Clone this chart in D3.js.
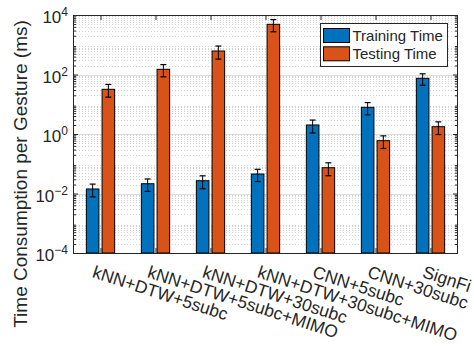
<!DOCTYPE html>
<html>
<head>
<meta charset="utf-8">
<script src="https://cdn.jsdelivr.net/npm/d3@7"></script>
<style>
  html, body { margin: 0; padding: 0; background: #fff; }
  svg { display: block; }
  text { font-family: "Liberation Sans", Arial, Helvetica, sans-serif; fill: #262626; }
</style>
</head>
<body>
<svg id="chart" width="474" height="348"></svg>
<script>
// Methods compared
const categories = [
  "kNN+DTW+5subc",
  "kNN+DTW+5subc+MIMO",
  "kNN+DTW+30subc",
  "kNN+DTW+30subc+MIMO",
  "CNN+5subc",
  "CNN+30subc",
  "SignFi"
];
const seriesNames = ["Training Time", "Testing Time"];
const seriesColors = ["#0072BD", "#D95319"];

// Mean time per gesture (ms) and standard deviation
const trainingTime = [0.0142, 0.0213, 0.0269, 0.0452, 2.01, 7.89, 74.5];
const trainingErr  = [0.0065, 0.0095, 0.0124, 0.020, 0.93, 3.5, 31];
const testingTime  = [31.8, 149.6, 617, 4863, 0.0736, 0.596, 1.76];
const testingErr   = [14.5, 66, 288, 2130, 0.034, 0.27, 0.8];

const yTicks = [1e-4, 1e-2, 1, 1e2, 1e4];
const yTickLabels = ["-4", "-2", "0", "2", "4"];

const W = 474, H = 348;
const plot = { left: 73, top: 15, right: 458, bottom: 253 };
const ink = "#262626";

const svg = d3.select("#chart");

const x = d3.scaleBand().domain(categories).range([plot.left, plot.right]).padding(0);
const bw = x.bandwidth();
const groupW = bw * 2 / 3.5;
const xSub = d3.scaleBand().domain(seriesNames)
  .range([-groupW / 2, groupW / 2]).paddingInner(0.2).paddingOuter(0.1);
const y = d3.scaleLog().domain([1e-4, 1e4]).range([plot.bottom, plot.top]);

// Grid: minor (dotted) then major (solid)
const minorVals = [];
for (let e = -4; e < 4; e++) for (let m = 2; m <= 9; m++) minorVals.push(m * Math.pow(10, e));
const grid = svg.append("g");
grid.selectAll("line.minor").data(minorVals).join("line")
  .attr("x1", plot.left).attr("x2", plot.right)
  .attr("y1", d => Math.round(y(d)) + 0.5).attr("y2", d => Math.round(y(d)) + 0.5)
  .attr("stroke", "#d2d2d2").attr("stroke-width", 1).attr("stroke-dasharray", "1,2");
grid.selectAll("line.major").data(yTicks).join("line")
  .attr("x1", plot.left).attr("x2", plot.right)
  .attr("y1", d => Math.round(y(d)) + 0.5).attr("y2", d => Math.round(y(d)) + 0.5)
  .attr("stroke", "#dedede").attr("stroke-width", 1);

// Bars
const rows = categories.map((c, i) => ({
  cat: c,
  vals: [
    { s: seriesNames[0], v: trainingTime[i], e: trainingErr[i], k: 0 },
    { s: seriesNames[1], v: testingTime[i], e: testingErr[i], k: 1 }
  ]
}));
const groups = svg.append("g").selectAll("g").data(rows).join("g")
  .attr("transform", d => `translate(${x(d.cat) + bw / 2},0)`);
groups.selectAll("rect").data(d => d.vals).join("rect")
  .attr("x", d => xSub(d.s))
  .attr("width", xSub.bandwidth())
  .attr("y", d => y(d.v))
  .attr("height", d => plot.bottom - y(d.v))
  .attr("fill", d => seriesColors[d.k])
  .attr("stroke", "#000").attr("stroke-width", 1);

// Error bars
const cap = 3;
const eb = groups.selectAll("g.err").data(d => d.vals).join("g").attr("class", "err")
  .attr("transform", d => `translate(${xSub(d.s) + xSub.bandwidth() / 2},0)`);
eb.append("line").attr("x1", 0).attr("x2", 0)
  .attr("y1", d => y(d.v + d.e)).attr("y2", d => y(d.v - d.e))
  .attr("stroke", "#000").attr("stroke-width", 1);
eb.append("line").attr("x1", -cap).attr("x2", cap)
  .attr("y1", d => y(d.v + d.e)).attr("y2", d => y(d.v + d.e))
  .attr("stroke", "#000").attr("stroke-width", 1.2);
eb.append("line").attr("x1", -cap).attr("x2", cap)
  .attr("y1", d => y(d.v - d.e)).attr("y2", d => y(d.v - d.e))
  .attr("stroke", "#000").attr("stroke-width", 1.2);

// Axes (ticks pointing inward on all four sides)
function styleAxis(g) {
  g.select(".domain").remove();
  g.selectAll(".tick line").attr("stroke", ink);
  g.selectAll(".tick text").remove();
}
svg.append("g").attr("transform", `translate(${plot.left},0)`)
  .call(d3.axisLeft(y).tickValues(yTicks).tickSize(-5)).call(styleAxis);
svg.append("g").attr("transform", `translate(${plot.right},0)`)
  .call(d3.axisRight(y).tickValues(yTicks).tickSize(-5)).call(styleAxis);
svg.append("g").attr("transform", `translate(${plot.left},0)`)
  .call(d3.axisLeft(y).tickValues(minorVals).tickSize(-3)).call(styleAxis);
svg.append("g").attr("transform", `translate(${plot.right},0)`)
  .call(d3.axisRight(y).tickValues(minorVals).tickSize(-3)).call(styleAxis);
const xc = d3.scalePoint().domain(categories).range([plot.left + bw / 2, plot.right - bw / 2]);
svg.append("g").attr("transform", `translate(0,${plot.top})`)
  .call(d3.axisTop(xc).tickSize(-5)).call(styleAxis);
svg.append("g").attr("transform", `translate(0,${plot.bottom})`)
  .call(d3.axisBottom(xc).tickSize(-5)).call(styleAxis);

// Box
svg.append("rect")
  .attr("x", plot.left + 0.5).attr("y", plot.top + 0.5)
  .attr("width", plot.right - plot.left - 1).attr("height", plot.bottom - plot.top)
  .attr("fill", "none").attr("stroke", ink).attr("stroke-width", 1);

// Y tick labels: 10^n
const yl = svg.append("g").selectAll("text").data(yTicks).join("text")
  .attr("x", plot.left - 5)
  .attr("y", d => y(d) + 8)
  .attr("text-anchor", "end")
  .style("font-size", "17px");
yl.append("tspan").text("10");
yl.append("tspan").attr("dy", -7).style("font-size", "12px")
  .text((d, i) => yTickLabels[i].replace("-", "\u2212"));

// X tick labels, rotated
svg.append("g").selectAll("text").data(categories).join("text")
  .attr("transform", d => `translate(${xc(d) - 9},277) rotate(18)`)
  .attr("text-anchor", "start")
  .style("font-size", "17.5px")
  .text(d => d);

// Y axis title
svg.append("text")
  .attr("transform", "translate(27,174) rotate(-90)")
  .attr("text-anchor", "middle")
  .style("font-size", "19px")
  .text("Time Consumption per Gesture (ms)");

// Legend
const lg = svg.append("g");
lg.append("rect").attr("x", 320.5).attr("y", 23.5).attr("width", 127).attr("height", 43)
  .attr("fill", "#fff").attr("stroke", ink).attr("stroke-width", 1);
const li = lg.selectAll("g.item").data(seriesNames).join("g").attr("class", "item")
  .attr("transform", (d, i) => `translate(323.5,${28.5 + i * 18.3})`);
li.append("rect").attr("width", 26).attr("height", 14)
  .attr("fill", (d, i) => seriesColors[i]).attr("stroke", "#000").attr("stroke-width", 1);
li.append("text").attr("x", 29).attr("y", 12.5).style("font-size", "15px").text(d => d);
</script>
</body>
</html>
